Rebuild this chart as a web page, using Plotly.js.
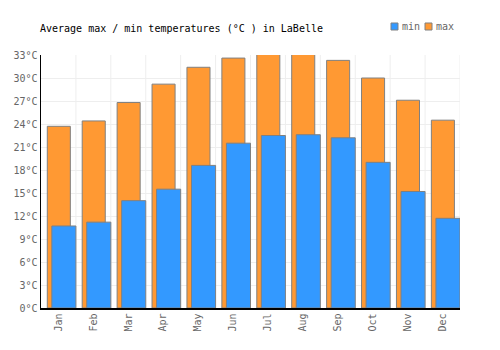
<!DOCTYPE html>
<html>
<head>
<meta charset="utf-8">
<script src="https://cdn.plot.ly/plotly-3.0.1.min.js"></script>
<style>html,body{margin:0;padding:0;background:#fff;}#chart{width:500px;height:350px;}</style>
</head>
<body>
<div id="chart"></div>
<script>
var months = ["Jan","Feb","Mar","Apr","May","Jun","Jul","Aug","Sep","Oct","Nov","Dec"];
var minTemps = [10.7, 11.2, 14.0, 15.5, 18.6, 21.5, 22.5, 22.6, 22.2, 19.0, 15.2, 11.7];
var maxTemps = [23.7, 24.4, 26.8, 29.2, 31.4, 32.6, 33.1, 33.1, 32.3, 30.0, 27.1, 24.5];
var yTicks = [0, 3, 6, 9, 12, 15, 18, 21, 24, 27, 30, 33];
var seriesNames = ["min", "max"];
var seriesColors = ["#3399ff", "#ff9933"];

var font = "DejaVu Sans Mono, monospace";
var traceMax = {
  type: "bar", name: seriesNames[1], x: months, y: maxTemps,
  offset: -0.32, width: 0.66,
  marker: {color: seriesColors[1], line: {color: "#808080", width: 1}},
  hoverinfo: "y", showlegend: false
};
var traceMin = {
  type: "bar", name: seriesNames[0], x: months, y: minTemps,
  offset: -0.19, width: 0.69,
  marker: {color: seriesColors[0], line: {color: "#808080", width: 1}},
  hoverinfo: "y", showlegend: false
};

// custom compact legend (square + label), placed in paper coords above the plot
var legX = [0.8353, 0.9165];
var shapes = months.map(function(m, i){
  return {type: "line", xref: "x", yref: "paper", x0: i + 0.5, x1: i + 0.5, y0: 0, y1: 1, line: {color: "#eeeeee", width: 1}, layer: "below"};
});
var annotations = [];
seriesNames.forEach(function(n, i){
  shapes.push({type: "rect", xref: "paper", yref: "paper", x0: legX[i], x1: legX[i] + 0.0167, y0: 1.0988, y1: 1.1265,
    fillcolor: seriesColors[i], line: {color: "#808080", width: 1}});
  annotations.push({xref: "paper", yref: "paper", x: legX[i] + 0.0215, y: 1.1107, xanchor: "left", yanchor: "middle",
    text: n, showarrow: false, font: {family: font, size: 10, color: "#666"}});
});

var layout = {
  width: 500, height: 350,
  margin: {l: 41, r: 40, t: 55, b: 42, autoexpand: false},
  paper_bgcolor: "#fff", plot_bgcolor: "#fff",
  barmode: "overlay",
  font: {family: font, size: 10, color: "#666"},
  title: {text: "Average max / min temperatures (°C ) in LaBelle", x: 0.08, xanchor: "left", y: 0.92, yanchor: "middle", font: {family: font, size: 10, color: "#000"}},
  showlegend: false,
  xaxis: {
    type: "category", tickangle: -90, showgrid: false, showline: true, linecolor: "#000", linewidth: 1.5,
    ticks: "", tickfont: {family: font, size: 10, color: "#666"}, range: [-0.5, 11.5], fixedrange: true
  },
  yaxis: {
    range: [0, 33], tickvals: yTicks, ticktext: yTicks.map(function(v){return v + "°C";}),
    showgrid: true, gridcolor: "#eeeeee", showline: true, linecolor: "#000", linewidth: 1.5,
    ticks: "", zeroline: false, tickfont: {family: font, size: 10, color: "#666"}, fixedrange: true
  },
  shapes: shapes,
  annotations: annotations
};
Plotly.newPlot("chart", [traceMax, traceMin], layout, {displayModeBar: false, staticPlot: true});
</script>
</body>
</html>
